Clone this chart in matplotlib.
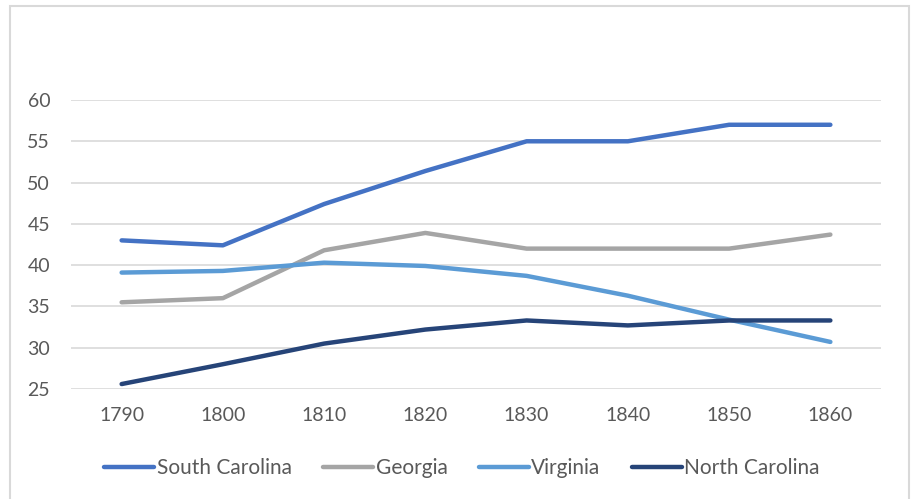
import matplotlib.pyplot as plt
from matplotlib.patches import Rectangle

years = ['1790', '1800', '1810', '1820', '1830', '1840', '1850', '1860']
south_carolina = [43.0, 42.4, 47.4, 51.4, 55.0, 55.0, 57.0, 57.0]
georgia = [35.5, 36.0, 41.8, 43.9, 42.0, 42.0, 42.0, 43.7]
virginia = [39.1, 39.3, 40.3, 39.9, 38.7, 36.3, 33.4, 30.7]
north_carolina = [25.6, 28.0, 30.5, 32.2, 33.3, 32.7, 33.3, 33.3]

plt.rcParams['font.family'] = ['Lato', 'DejaVu Sans']

fig = plt.figure(figsize=(9.13, 4.99), dpi=100)
ax = fig.add_axes([71/913, 1-389/499, 810/913, 289/499])

# chart border
fig.patches.append(Rectangle((10/913, -0.05), 899/913, 1.05-6/499, transform=fig.transFigure,
                             fill=False, edgecolor='#d9d9d9', linewidth=1.5))

x = range(len(years))
series = [('South Carolina', south_carolina, '#4472C4'),
          ('Georgia', georgia, '#A5A5A5'),
          ('Virginia', virginia, '#5B9BD5'),
          ('North Carolina', north_carolina, '#264478')]
for name, vals, col in series:
    ax.plot(x, vals, color=col, linewidth=3.2, label=name,
            solid_capstyle='round', solid_joinstyle='round')

ax.set_xlim(-0.5, 7.5)
ax.set_ylim(25, 60)
ax.set_yticks(range(25, 61, 5))
ax.set_xticks(list(x))
ax.set_xticklabels(years)
ax.grid(axis='y', color='#d9d9d9', linewidth=1.2)
ax.set_axisbelow(True)
for s in ax.spines.values():
    s.set_visible(False)
ax.tick_params(length=0, labelsize=14, colors='#595959')
ax.tick_params(axis='y', pad=15)
ax.tick_params(axis='x', pad=13)

ax.legend(loc='center', bbox_to_anchor=(462/913, 1-468/499), bbox_transform=fig.transFigure,
          ncol=4, frameon=False, fontsize=15, labelcolor='#595959',
          handlelength=2.4, handletextpad=0.12, columnspacing=1.5)

fig.savefig('out.png', dpi=100)
